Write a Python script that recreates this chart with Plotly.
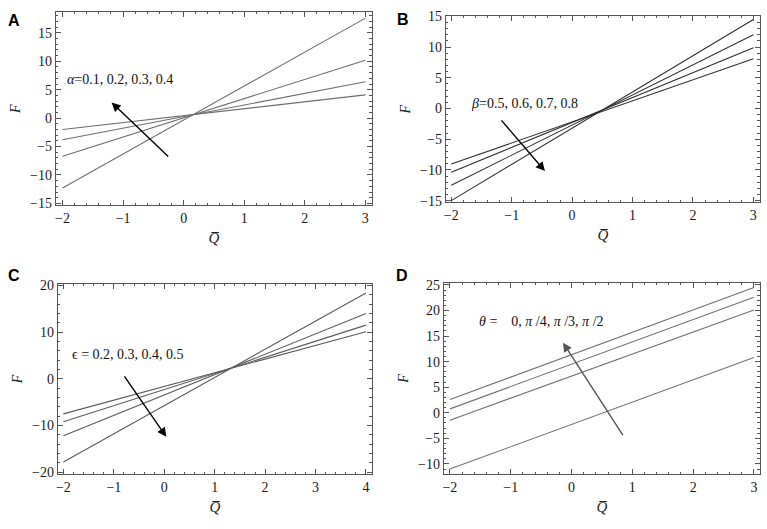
import plotly.graph_objects as go
from plotly.subplots import make_subplots

# end points of each straight line
q_ab = [-2, 3]
q_c = [-2, 4]
q_d = [-2, 3]

alpha_labels = ["0.1", "0.2", "0.3", "0.4"]
F_alpha = [[-12.3, 17.6], [-6.7, 10.2], [-3.8, 6.4], [-2.0, 4.1]]

beta_labels = ["0.5", "0.6", "0.7", "0.8"]
F_beta = [[-15.0, 14.5], [-12.5, 12.0], [-10.4, 9.9], [-9.05, 8.1]]

eps_labels = ["0.2", "0.3", "0.4", "0.5"]
F_eps = [[-17.8, 18.4], [-12.2, 14.0], [-9.2, 11.5], [-7.5, 10.1]]

theta_labels = ["0", "π/4", "π/3", "π/2"]
F_theta = [[-11.0, 10.8], [-1.46, 20.1], [0.76, 22.6], [2.6, 24.5]]

serif = "Liberation Serif"

fig = make_subplots(rows=2, cols=2)


def add_lines(q, F, labels, sym, color, row, col):
    for lab, ys in zip(labels, F):
        fig.add_trace(
            go.Scatter(
                x=q,
                y=ys,
                mode="lines",
                name="{}={}".format(sym, lab),
                line=dict(color=color, width=1.1),
                showlegend=False,
            ),
            row=row,
            col=col,
        )


add_lines(q_ab, F_alpha, alpha_labels, "α", "#6e6e6e", 1, 1)
add_lines(q_ab, F_beta, beta_labels, "β", "#2e2e2e", 1, 2)
add_lines(q_c, F_eps, eps_labels, "ϵ", "#5a5a5a", 2, 1)
add_lines(q_d, F_theta, theta_labels, "θ", "#707070", 2, 2)

# panel placement in pixels (left, right, top, bottom)
W, H = 767, 529
panels = [
    (1, 1, (54, 371, 6, 204), [-2.11, 3.11], [-15.35, 18.7], 5, 1),
    (1, 2, (445, 760, 10, 201), [-2.09, 3.11], [-15.3, 15.1], 5, 1),
    (2, 1, (56, 371, 284, 479), [-2.11, 4.12], [-20.4, 20.4], 10, 2),
    (2, 2, (443, 760, 283, 479), [-2.10, 3.10], [-12.0, 25.45], 5, 1),
]

axis_style = dict(
    showgrid=False,
    zeroline=False,
    showline=True,
    linecolor="#555555",
    linewidth=1.2,
    mirror="allticks",
    ticks="inside",
    ticklen=5,
    tickwidth=1,
    tickcolor="#555555",
    ticklabeloverflow="allow",
    tickfont=dict(family=serif, size=14, color="#1a1a1a"),
)

for row, col, (x0, x1, y0, y1), xr, yr, ydt, ymin in panels:
    fig.update_xaxes(
        domain=[x0 / W, x1 / W],
        range=xr,
        dtick=1,
        minor=dict(dtick=0.2, ticks="inside", ticklen=2.5, tickcolor="#555555"),
        title=dict(text="<i>Q̅</i>", font=dict(family=serif, size=15), standoff=7),
        row=row,
        col=col,
        **axis_style,
    )
    fig.update_yaxes(
        domain=[1 - y1 / H, 1 - y0 / H],
        range=yr,
        dtick=ydt,
        minor=dict(dtick=ymin, ticks="inside", ticklen=2.5, tickcolor="#555555"),
        title=dict(text="<i>F</i>", font=dict(family=serif, size=14), standoff=6),
        row=row,
        col=col,
        **axis_style,
    )

# parameter labels and arrows
notes = [
    ("x", "y", -1.05, 6.8, "<i>α</i>=0.1, 0.2, 0.3, 0.4"),
    ("x2", "y2", -0.78, 0.8, "<i>β</i>=0.5, 0.6, 0.7, 0.8"),
    ("x3", "y3", -0.71, 5.3, "ϵ = 0.2, 0.3, 0.4, 0.5"),
    ("x4", "y4", -0.5, 17.8, "<i>θ</i> =    0, <i>π</i> /4, <i>π</i> /3, <i>π</i> /2"),
]
for xr, yr, x, y, txt in notes:
    fig.add_annotation(
        x=x, y=y, xref=xr, yref=yr, text=txt, showarrow=False,
        font=dict(family=serif, size=14, color="#111111"),
    )

arrows = [
    ("x", "y", -0.23, -7.0, -1.19, 2.76, "#000000"),
    ("x2", "y2", -1.19, -1.69, -0.45, -10.2, "#000000"),
    ("x3", "y3", -0.81, 0.83, 0.04, -12.4, "#000000"),
    ("x4", "y4", 0.86, -4.65, -0.14, 13.7, "#555555"),
]
for xr, yr, tx, ty, hx, hy, c in arrows:
    fig.add_annotation(
        x=hx, y=hy, ax=tx, ay=ty, xref=xr, yref=yr, axref=xr, ayref=yr,
        text="", showarrow=True, arrowhead=2, arrowsize=1.3, arrowwidth=1.4,
        arrowcolor=c,
    )

# panel letters
for lab, px, py in [("A", 12, 15), ("B", 402, 14), ("C", 12, 276), ("D", 401, 276)]:
    fig.add_annotation(
        x=px / W, y=1 - py / H, xref="paper", yref="paper", text="<b>{}</b>".format(lab),
        xanchor="center", yanchor="middle", showarrow=False,
        font=dict(family="Liberation Sans", size=16, color="#000000"),
    )

fig.update_layout(
    width=W,
    height=H,
    margin=dict(l=0, r=0, t=0, b=0),
    font=dict(family=serif, color="#222222"),
    plot_bgcolor="white",
    paper_bgcolor="white",
    showlegend=False,
)

fig.write_html(
    "out.html",
    config={"displayModeBar": False},
    post_script="document.body.style.margin='0';",
)
